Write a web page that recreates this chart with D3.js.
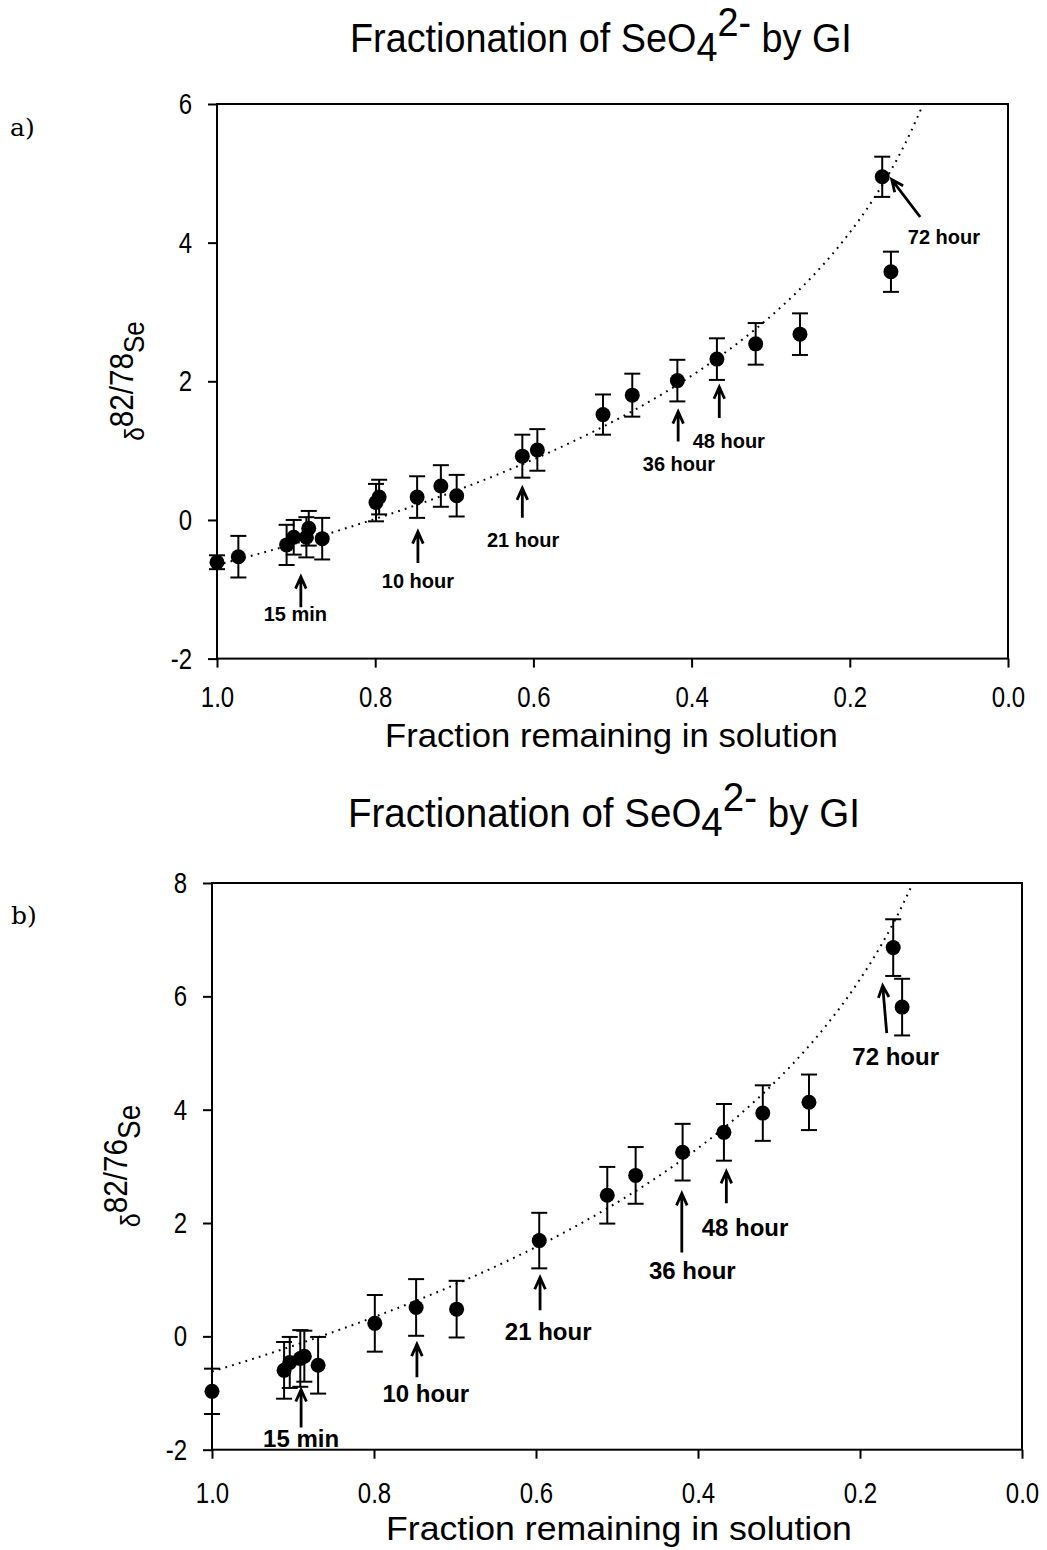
<!DOCTYPE html>
<html><head><meta charset="utf-8">
<script src="https://cdn.jsdelivr.net/npm/d3@7/dist/d3.min.js"></script>
<style>body{margin:0;background:#fff} svg{display:block}</style>
</head><body><svg id="c" width="1047" height="1550"></svg>
<script>
// ---------- DATA ----------
const xTicks = [1.0, 0.8, 0.6, 0.4, 0.2, 0.0];
const yTicksA = [-2, 0, 2, 4, 6];
const yTicksB = [-2, 0, 2, 4, 6, 8];

// Panel a: δ82/78Se
const fracA  = [1.000, 0.973, 0.912, 0.903, 0.887, 0.884, 0.867, 0.799, 0.795, 0.747, 0.717, 0.697, 0.614, 0.595, 0.512, 0.475, 0.418, 0.368, 0.319, 0.263, 0.159, 0.148];
const deltaA = [-0.61, -0.53, -0.36, -0.25, -0.25, -0.12, -0.27, 0.25, 0.33, 0.33, 0.49, 0.35, 0.92, 1.01, 1.52, 1.80, 2.01, 2.32, 2.54, 2.68, 4.95, 3.58];
const errA   = [0.10, 0.30, 0.29, 0.25, 0.29, 0.25, 0.30, 0.27, 0.25, 0.30, 0.30, 0.30, 0.31, 0.30, 0.29, 0.31, 0.30, 0.30, 0.30, 0.30, 0.29, 0.29];

// Panel b: δ82/76Se
const fracB  = [1.000, 0.911, 0.904, 0.891, 0.886, 0.869, 0.799, 0.748, 0.698, 0.596, 0.512, 0.477, 0.419, 0.368, 0.320, 0.263, 0.159, 0.148];
const deltaB = [-0.97, -0.60, -0.46, -0.39, -0.35, -0.51, 0.23, 0.51, 0.48, 1.69, 2.49, 2.84, 3.25, 3.60, 3.94, 4.13, 6.86, 5.81];
const errB   = [0.40, 0.50, 0.45, 0.50, 0.45, 0.50, 0.50, 0.50, 0.50, 0.49, 0.50, 0.50, 0.50, 0.50, 0.49, 0.49, 0.50, 0.50];

// Logarithmic (Rayleigh) trendlines: delta = a + b * ln(f)
const trendA = [-0.65, -2.98];
const trendB = [-0.62, -4.30];

// Annotations (data units)
const annotLabels = ["15 min", "10 hour", "21 hour", "36 hour", "48 hour", "72 hour"];
const arrowTipXA  = [0.894, 0.746, 0.614, 0.417, 0.365, 0.147];
const arrowTipYA  = [-0.82, -0.17, 0.46, 1.56, 1.92, 4.91];
const arrowTailXA = [0.894, 0.746, 0.614, 0.417, 0.365, 0.111];
const arrowTailYA = [-1.26, -0.62, 0.03, 1.13, 1.47, 4.37];
const labelXA     = [0.901, 0.746, 0.613, 0.416, 0.353, 0.081];
const labelYA     = [-1.36, -0.88, -0.29, 0.81, 1.14, 4.08];

const arrowTipXB  = [0.890, 0.747, 0.595, 0.420, 0.365, 0.172];
const arrowTipYB  = [-0.94, -0.14, 1.04, 2.52, 2.91, 6.19];
const arrowTailXB = [0.890, 0.747, 0.595, 0.420, 0.365, 0.167];
const arrowTailYB = [-1.61, -0.72, 0.46, 1.48, 2.35, 5.35];
const labelXB     = [0.890, 0.736, 0.585, 0.407, 0.342, 0.156];
const labelYB     = [-1.80, -1.01, 0.09, 1.16, 1.92, 4.94];

// ---------- DRAW ----------
const svg = d3.select("#c");
const SANS = "'Liberation Sans', Arial, sans-serif";

function condense(sel, cx, s) {
  sel.attr("transform", `translate(${cx},0) scale(${s},1) translate(${-cx},0)`);
}

function drawPanel(cfg) {
  const g = svg.append("g");
  const x = d3.scaleLinear().domain([1, 0]).range([cfg.left, cfg.right]);
  const y = d3.scaleLinear().domain(cfg.yDomain).range([cfg.bottom, cfg.top]);

  // frame
  g.append("rect").attr("x", cfg.left).attr("y", cfg.top)
    .attr("width", cfg.right - cfg.left).attr("height", cfg.bottom - cfg.top)
    .attr("fill", "none").attr("stroke", "#000").attr("stroke-width", 2);

  // axes
  const xa = g.append("g").attr("transform", `translate(0,${cfg.bottom})`)
    .call(d3.axisBottom(x).tickValues(xTicks).tickSize(9).tickPadding(cfg.xPad).tickFormat(d3.format(".1f")));
  const ya = g.append("g").attr("transform", `translate(${cfg.left},0)`)
    .call(d3.axisLeft(y).tickValues(cfg.yTicks).tickSize(9).tickPadding(cfg.yPad).tickFormat(d => String(d)));
  [xa, ya].forEach(a => {
    a.select(".domain").remove();
    a.selectAll(".tick line").attr("stroke", "#000").attr("stroke-width", 2);
    a.selectAll(".tick text").attr("fill", "#000").style("font-family", SANS).style("font-size", "30px");
  });
  xa.selectAll(".tick text").each(function () { condense(d3.select(this), 0, 0.8); });
  ya.selectAll(".tick text").each(function () { const tx = +d3.select(this).attr("x"); condense(d3.select(this), tx, 0.8); });

  // trendline (dotted)
  const [ta, tb] = cfg.trend;
  const fMin = Math.exp((cfg.yDomain[1] - ta) / tb);
  const fs = d3.range(0, 201).map(i => 1 - (1 - fMin) * i / 200);
  g.append("path").datum(fs)
    .attr("d", d3.line().x(f => x(f)).y(f => y(ta + tb * Math.log(f))))
    .attr("fill", "none").attr("stroke", "#000").attr("stroke-width", 2)
    .attr("stroke-dasharray", "1.8 5.2");

  // error bars
  const pts = cfg.frac.map((f, i) => ({ f, v: cfg.delta[i], e: cfg.err[i] }));
  const eb = g.append("g").attr("stroke", "#000").attr("stroke-width", 2);
  pts.forEach(p => {
    const px = x(p.f), y1 = y(p.v - p.e), y2 = y(p.v + p.e);
    eb.append("line").attr("x1", px).attr("x2", px).attr("y1", y1).attr("y2", y2);
    eb.append("line").attr("x1", px - 8).attr("x2", px + 8).attr("y1", y1).attr("y2", y1);
    eb.append("line").attr("x1", px - 8).attr("x2", px + 8).attr("y1", y2).attr("y2", y2);
  });
  // points
  g.append("g").selectAll("circle").data(pts).join("circle")
    .attr("cx", p => x(p.f)).attr("cy", p => y(p.v)).attr("r", 7.5).attr("fill", "#000");

  // arrows + labels
  annotLabels.forEach((lab, i) => {
    const tx = x(cfg.tipX[i]), ty = y(cfg.tipY[i]);
    const sx = x(cfg.tailX[i]), sy = y(cfg.tailY[i]);
    const ang = Math.atan2(sy - ty, sx - tx);
    const L = 13, w = 0.42;
    const w1x = tx + L * Math.cos(ang + w), w1y = ty + L * Math.sin(ang + w);
    const w2x = tx + L * Math.cos(ang - w), w2y = ty + L * Math.sin(ang - w);
    g.append("path")
      .attr("d", `M${sx},${sy}L${tx},${ty}M${w1x},${w1y}L${tx},${ty}L${w2x},${w2y}`)
      .attr("fill", "none").attr("stroke", "#000").attr("stroke-width", 2.8);
    g.append("text").attr("x", x(cfg.labX[i])).attr("y", y(cfg.labY[i]))
      .attr("text-anchor", "middle").attr("dominant-baseline", "central")
      .style("font-family", SANS).style("font-weight", "bold").style("font-size", cfg.annFont + "px")
      .text(lab);
  });

  // title with sub/superscript
  const t = g.append("text").attr("x", 0).attr("y", cfg.titleY)
    .style("font-family", SANS).style("font-size", "40px").attr("fill", "#000");
  t.append("tspan").text("Fractionation of SeO");
  t.append("tspan").attr("dy", 9).text("4");
  t.append("tspan").attr("dy", -25).text("2-");
  t.append("tspan").attr("dy", 16).text(" by GI");
  const tw = t.node().getComputedTextLength();
  const s = (cfg.titleX[1] - cfg.titleX[0]) / tw;
  t.attr("transform", `translate(${cfg.titleX[0]},0) scale(${s},1)`);

  // x title
  const xt = g.append("text").attr("x", 0).attr("y", cfg.xTitleY)
    .style("font-family", SANS).style("font-size", "33px").text("Fraction remaining in solution");
  const xw = xt.node().getComputedTextLength();
  xt.attr("transform", `translate(${cfg.xTitleX[0]},0) scale(${(cfg.xTitleX[1] - cfg.xTitleX[0]) / xw},1)`);

  // y title
  const yt = g.append("text").attr("text-anchor", "middle")
    .attr("transform", `translate(${cfg.yTitle[0]},${cfg.yTitle[1]}) rotate(-90) scale(0.9,1)`)
    .style("font-family", SANS);
  yt.append("tspan").style("font-size", cfg.yFonts[0] + "px").text("δ");
  yt.append("tspan").style("font-size", cfg.yFonts[1] + "px").attr("dy", -cfg.yRaise).text(cfg.iso);
  yt.append("tspan").style("font-size", cfg.yFonts[2] + "px").attr("dy", cfg.yRaise).text("Se");

  // panel letter
  g.append("text").attr("x", cfg.letterPos[0]).attr("y", cfg.letterPos[1])
    .style("font-family", "'DejaVu Serif', 'Liberation Serif', serif").style("font-size", "25px")
    .text(cfg.letter);
}

drawPanel({
  left: 217, right: 1008, top: 104, bottom: 658.6, yDomain: [-2, 6], yTicks: yTicksA,
  xPad: 18, yPad: 16,
  frac: fracA, delta: deltaA, err: errA, trend: trendA,
  tipX: arrowTipXA, tipY: arrowTipYA, tailX: arrowTailXA, tailY: arrowTailYA, labX: labelXA, labY: labelYA,
  annFont: 20,
  titleY: 52, titleX: [350, 852],
  xTitleY: 747, xTitleX: [385, 838],
  yTitle: [144, 381], yFonts: [27, 33, 29], yRaise: 11, iso: "82/78",
  letter: "a)", letterPos: [10, 136]
});
drawPanel({
  left: 212, right: 1022, top: 883, bottom: 1449.7, yDomain: [-2, 8], yTicks: yTicksB,
  xPad: 23, yPad: 16,
  frac: fracB, delta: deltaB, err: errB, trend: trendB,
  tipX: arrowTipXB, tipY: arrowTipYB, tailX: arrowTailXB, tailY: arrowTailYB, labX: labelXB, labY: labelYB,
  annFont: 24,
  titleY: 827, titleX: [348, 860],
  xTitleY: 1540, xTitleX: [386, 852],
  yTitle: [140, 1166], yFonts: [28, 33, 31], yRaise: 13, iso: "82/76",
  letter: "b)", letterPos: [11, 924]
});
</script></body></html>
